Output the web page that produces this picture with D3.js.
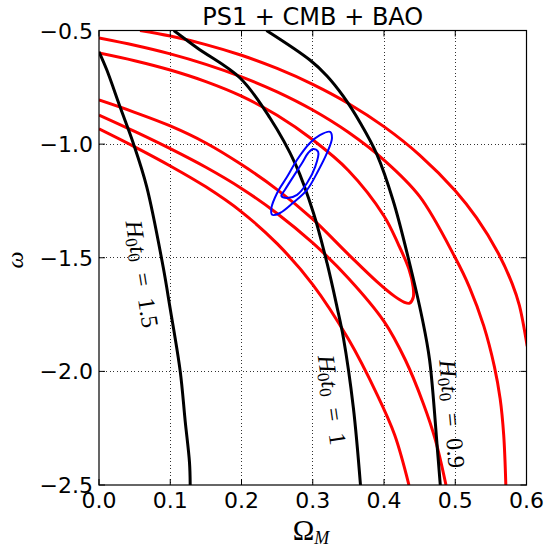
<!DOCTYPE html>
<html><head><meta charset="utf-8">
<script src="https://cdn.jsdelivr.net/npm/d3@7"></script>
<style>body{margin:0;background:#fff}</style>
</head><body>
<svg id="c" width="552" height="549"></svg>
<script>
// ---- data (Omega_M, w) ----
const xTicks = [0.0, 0.1, 0.2, 0.3, 0.4, 0.5, 0.6];
const yTicks = [-0.5, -1.0, -1.5, -2.0, -2.5];
const xTickLabels = ["0.0","0.1","0.2","0.3","0.4","0.5","0.6"];
const yTickLabels = ["\u22120.5","\u22121.0","\u22121.5","\u22122.0","\u22122.5"];

// red contours (CMB+BAO-type bands)
const red3sUpper = [[0.0576,-0.5],[0.1,-0.5245],[0.15,-0.562],[0.2,-0.609],[0.25,-0.667],[0.3,-0.737],[0.35,-0.821],[0.4,-0.923],[0.45,-1.048],[0.5,-1.205],[0.53,-1.325],[0.56,-1.478],[0.58,-1.615],[0.59,-1.71],[0.601,-1.89]];
const red2sUpper = [[0,-0.533],[0.05,-0.565],[0.1,-0.603],[0.15,-0.649],[0.2,-0.704],[0.25,-0.770],[0.3,-0.850],[0.35,-0.948],[0.4,-1.070],[0.45,-1.230],[0.5,-1.50],[0.52,-1.63],[0.54,-1.80],[0.555,-1.98],[0.563,-2.12],[0.568,-2.28],[0.571,-2.5]];
const red1sUpper = [[0,-0.599],[0.05,-0.633],[0.1,-0.674],[0.15,-0.725],[0.2,-0.789],[0.25,-0.873],[0.3,-0.981],[0.35,-1.116],[0.4,-1.316],[0.42,-1.44],[0.435,-1.55],[0.441,-1.63],[0.441,-1.675],[0.436,-1.70]];
const red1sLower = [[0.436,-1.70],[0.428,-1.695],[0.415,-1.67],[0.39,-1.605],[0.35,-1.485],[0.3,-1.33],[0.25,-1.2],[0.2,-1.09],[0.15,-0.995],[0.1,-0.92],[0.05,-0.86],[0,-0.806]];
const red2sLower = [[0,-0.872],[0.05,-0.944],[0.1,-1.020],[0.15,-1.102],[0.2,-1.195],[0.25,-1.305],[0.3,-1.435],[0.35,-1.590],[0.4,-1.78],[0.43,-1.95],[0.455,-2.14],[0.472,-2.30],[0.487,-2.5]];
const red3sLower = [[0,-0.933],[0.05,-1.012],[0.1,-1.096],[0.15,-1.188],[0.2,-1.298],[0.25,-1.438],[0.3,-1.618],[0.35,-1.858],[0.39,-2.10],[0.415,-2.28],[0.435,-2.5]];

// black age curves H0 t0
const age15 = [[0,-0.594],[0.011,-0.674],[0.0295,-0.836],[0.048,-0.995],[0.067,-1.188],[0.090,-1.54],[0.0997,-1.72],[0.114,-2.0],[0.121,-2.22],[0.127,-2.40],[0.128,-2.5]];
const age10 = [[0.105,-0.5],[0.138,-0.577],[0.198,-0.709],[0.240,-0.885],[0.276,-1.09],[0.301,-1.303],[0.320,-1.523],[0.334,-1.716],[0.343,-1.852],[0.357,-2.16],[0.367,-2.5]];
const age09 = [[0.235,-0.5],[0.296,-0.63],[0.32,-0.70],[0.343,-0.79],[0.367,-0.908],[0.390,-1.045],[0.413,-1.25],[0.434,-1.50],[0.454,-1.773],[0.464,-1.95],[0.475,-2.345],[0.479,-2.5]];
const ageLabels = ["1.5","1","0.9"];

// blue PS1+CMB+BAO contours
const blueOuter = [[0.3244,-0.946],[0.327,-0.973],[0.320,-1.039],[0.306,-1.127],[0.292,-1.201],[0.272,-1.259],[0.254,-1.303],[0.243,-1.311],[0.242,-1.281],[0.250,-1.215],[0.264,-1.144],[0.278,-1.069],[0.296,-0.995],[0.310,-0.96]];
const blueInner = [[0.3006,-1.021],[0.3076,-1.034],[0.3034,-1.100],[0.292,-1.171],[0.278,-1.223],[0.264,-1.237],[0.256,-1.228],[0.261,-1.201],[0.2725,-1.144],[0.285,-1.083],[0.2935,-1.039]];

// ---- layout ----
const svg = d3.select("#c");
const L = 99, R = 526.5, T = 30.5, B = 485;
const x = d3.scaleLinear().domain([0, 0.6]).range([L, R]);
const y = d3.scaleLinear().domain([-2.5, -0.5]).range([B, T]);

svg.append("defs").append("clipPath").attr("id","clip")
  .append("rect").attr("x",L).attr("y",T).attr("width",R-L).attr("height",B-T);

// grid
const grid = svg.append("g");
xTicks.slice(1,-1).forEach(v => grid.append("line")
  .attr("x1",x(v)).attr("x2",x(v)).attr("y1",T).attr("y2",B));
yTicks.slice(1,-1).forEach(v => grid.append("line")
  .attr("y1",y(v)).attr("y2",y(v)).attr("x1",L).attr("x2",R));
grid.selectAll("line").attr("stroke","#000").attr("stroke-width",0.8)
  .attr("stroke-dasharray","1,2.5").attr("shape-rendering","crispEdges");

const line = d3.line().x(d=>x(d[0])).y(d=>y(d[1])).curve(d3.curveCatmullRom.alpha(0.5));
const plot = svg.append("g").attr("clip-path","url(#clip)");

[red3sUpper, red2sUpper, red2sLower, red3sLower].forEach(s =>
  plot.append("path").attr("d", line(s)).attr("fill","none").attr("stroke","#ff0000").attr("stroke-width",3));
plot.append("path").attr("d", line(red1sUpper.concat(red1sLower.slice(1))))
  .attr("fill","none").attr("stroke","#ff0000").attr("stroke-width",3).attr("stroke-linejoin","round");

[age15, age10, age09].forEach(s =>
  plot.append("path").attr("d", line(s)).attr("fill","none").attr("stroke","#000").attr("stroke-width",3));

const closed = d3.line().x(d=>x(d[0])).y(d=>y(d[1])).curve(d3.curveCatmullRomClosed.alpha(0.5));
[blueOuter, blueInner].forEach(s =>
  plot.append("path").attr("d", closed(s)).attr("fill","none").attr("stroke","#0000ff").attr("stroke-width",2));

// curve labels
const labelPos = [[142,274,81],[332,400,82],[452,414,85]];
ageLabels.forEach((lab,i) => {
  const [cx,cy,ang] = labelPos[i];
  const t = svg.append("text").attr("transform",`translate(${cx},${cy}) rotate(${ang})`)
    .attr("text-anchor","middle").attr("dominant-baseline","central")
    .attr("font-family","Liberation Serif, serif").attr("font-size",24).attr("fill","#000");
  t.append("tspan").attr("font-style","italic").text("H");
  t.append("tspan").attr("font-size",17).attr("dy",5).text("0");
  t.append("tspan").attr("font-style","italic").attr("dy",-5).text("t");
  t.append("tspan").attr("font-size",17).attr("dy",5).text("0");
  t.append("tspan").attr("dy",-5).text("\u2002=\u2002" + lab);
});

// ticks (inward, all sides)
const tk = svg.append("g").attr("stroke","#000").attr("stroke-width",1);
xTicks.forEach(v => {
  tk.append("line").attr("x1",x(v)).attr("x2",x(v)).attr("y1",B).attr("y2",B-6);
  tk.append("line").attr("x1",x(v)).attr("x2",x(v)).attr("y1",T).attr("y2",T+6);
});
yTicks.forEach(v => {
  tk.append("line").attr("y1",y(v)).attr("y2",y(v)).attr("x1",L).attr("x2",L+6);
  tk.append("line").attr("y1",y(v)).attr("y2",y(v)).attr("x1",R).attr("x2",R-6);
});

// frame
svg.append("rect").attr("x",L).attr("y",T).attr("width",R-L).attr("height",B-T)
  .attr("fill","none").attr("stroke","#000").attr("stroke-width",1.2);

// tick labels
const fnt = "DejaVu Sans, sans-serif";
xTicks.forEach((v,i) => svg.append("text").attr("x",x(v)).attr("y",B+23)
  .attr("text-anchor","middle").attr("font-family",fnt).attr("font-size",22).text(xTickLabels[i]));
yTicks.forEach((v,i) => svg.append("text").attr("x",L-6).attr("y",y(v)+8)
  .attr("text-anchor","end").attr("font-family",fnt).attr("font-size",22).text(yTickLabels[i]));

// title
svg.append("text").attr("x",(L+R)/2).attr("y",25).attr("text-anchor","middle")
  .attr("font-family",fnt).attr("font-size",24).text("PS1 + CMB + BAO");

// axis labels
const xl = svg.append("text").attr("x",311).attr("y",540).attr("text-anchor","middle")
  .attr("font-family","Liberation Serif, serif").attr("font-size",29);
xl.append("tspan").text("\u03A9");
xl.append("tspan").attr("font-style","italic").attr("font-size",18).attr("dy",4).text("M");

svg.append("text").attr("transform","translate(23,260) rotate(-90)").attr("text-anchor","middle")
  .attr("font-family","Liberation Serif, serif").attr("font-style","italic").attr("font-size",24).text("\u03C9");
</script>
</body></html>
